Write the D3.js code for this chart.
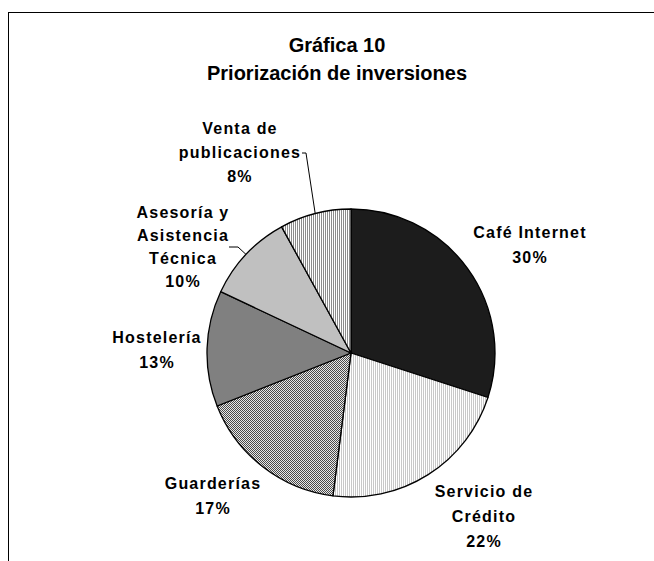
<!DOCTYPE html>
<html>
<head>
<meta charset="utf-8">
<script src="https://cdn.jsdelivr.net/npm/d3@7"></script>
<style>
  body { margin: 0; background: #fff; }
  text { font-family: "Liberation Sans", Arial, sans-serif; font-weight: bold; fill: #000; }
</style>
</head>
<body>
<div class="chart"></div>
<script>
// data
var categories = ["Café Internet", "Servicio de Crédito", "Guarderías", "Hostelería", "Asesoría y Asistencia Técnica", "Venta de publicaciones"];
var values = [30, 22, 17, 13, 10, 8];
var labelLines = [["Café Internet"], ["Servicio de", "Crédito"], ["Guarderías"], ["Hostelería"], ["Asesoría y", "Asistencia", "Técnica"], ["Venta de", "publicaciones"]];
var titleLines = ["Gráfica 10", "Priorización de inversiones"];

// layout
var W = 654, H = 561;
var cx = 351, cy = 353, R = 144;
var fills = ["#1c1c1c", "url(#stripeLight)", "url(#checker)", "#808080", "#c0c0c0", "url(#stripeDark)"];
var labelPos = [[530, 238], [484, 497], [213, 489], [157, 343], [183, 218], [240, 134]];
var lineStep = [25, 25, 25, 25, 23, 24];
var leaders = [null, null, null, null, [[229, 247], [238, 247]], [[302, 153], [306, 153]]];

var svg = d3.select(".chart").append("svg")
  .attr("width", W)
  .attr("height", H);

var defs = svg.append("defs");
var p1 = defs.append("pattern").attr("id", "stripeLight").attr("patternUnits", "userSpaceOnUse").attr("width", 2).attr("height", 2);
p1.append("rect").attr("width", 2).attr("height", 2).attr("fill", "#fff");
p1.append("rect").attr("width", 1).attr("height", 2).attr("fill", "#c8c8c8");
var p2 = defs.append("pattern").attr("id", "stripeDark").attr("patternUnits", "userSpaceOnUse").attr("width", 2).attr("height", 2);
p2.append("rect").attr("width", 2).attr("height", 2).attr("fill", "#fff");
p2.append("rect").attr("width", 1).attr("height", 2).attr("fill", "#8c8c8c");
var p3 = defs.append("pattern").attr("id", "checker").attr("patternUnits", "userSpaceOnUse").attr("width", 2).attr("height", 2);
p3.append("rect").attr("width", 2).attr("height", 2).attr("fill", "#e8e8e8");
p3.append("rect").attr("width", 1).attr("height", 1).attr("fill", "#4a4a4a");
p3.append("rect").attr("x", 1).attr("y", 1).attr("width", 1).attr("height", 1).attr("fill", "#4a4a4a");

// frame (runs off the right and bottom)
svg.append("rect")
  .attr("x", 8.5).attr("y", 12.5)
  .attr("width", W + 20).attr("height", H + 20)
  .attr("fill", "none").attr("stroke", "#000").attr("stroke-width", 1);

svg.selectAll(".title")
  .data(titleLines)
  .enter().append("text")
    .attr("class", "title")
    .attr("x", 337)
    .attr("y", (d, i) => 52 + i * 28)
    .attr("text-anchor", "middle")
    .style("font-size", "20px")
    .text(d => d);

var pie = d3.pie().sort(null).value(d => d);
var arcs = pie(values);
var arc = d3.arc().innerRadius(0).outerRadius(R);
var edge = d3.arc().innerRadius(R).outerRadius(R);

var g = svg.append("g").attr("transform", "translate(" + cx + "," + cy + ")");

g.selectAll("path.slice")
  .data(arcs)
  .enter().append("path")
    .attr("class", "slice")
    .attr("d", arc)
    .attr("fill", (d, i) => fills[i])
    .attr("stroke", "#000")
    .attr("stroke-width", 1.3)
    .attr("stroke-linejoin", "round");

// leader lines to the middle of the slice edge
arcs.forEach((d, i) => {
  if (!leaders[i]) return;
  var c = edge.centroid(d);
  var pts = leaders[i].map(p => [p[0], p[1]]).concat([[c[0] + cx, c[1] + cy]]);
  svg.append("path")
    .attr("d", d3.line()(pts))
    .attr("fill", "none")
    .attr("stroke", "#000")
    .attr("stroke-width", 1);
});

var total = d3.sum(values);
var labels = svg.selectAll("g.label")
  .data(arcs)
  .enter().append("g")
    .attr("class", "label");

labels.each(function(d, i) {
  var lines = labelLines[i].concat([Math.round(d.value / total * 100) + "%"]);
  d3.select(this).selectAll("text")
    .data(lines)
    .enter().append("text")
      .attr("x", labelPos[i][0])
      .attr("y", (t, j) => labelPos[i][1] + j * lineStep[i])
      .attr("text-anchor", "middle")
      .style("font-size", "16px")
      .style("letter-spacing", "1.2px")
      .text(t => t);
});
</script>
</body>
</html>
